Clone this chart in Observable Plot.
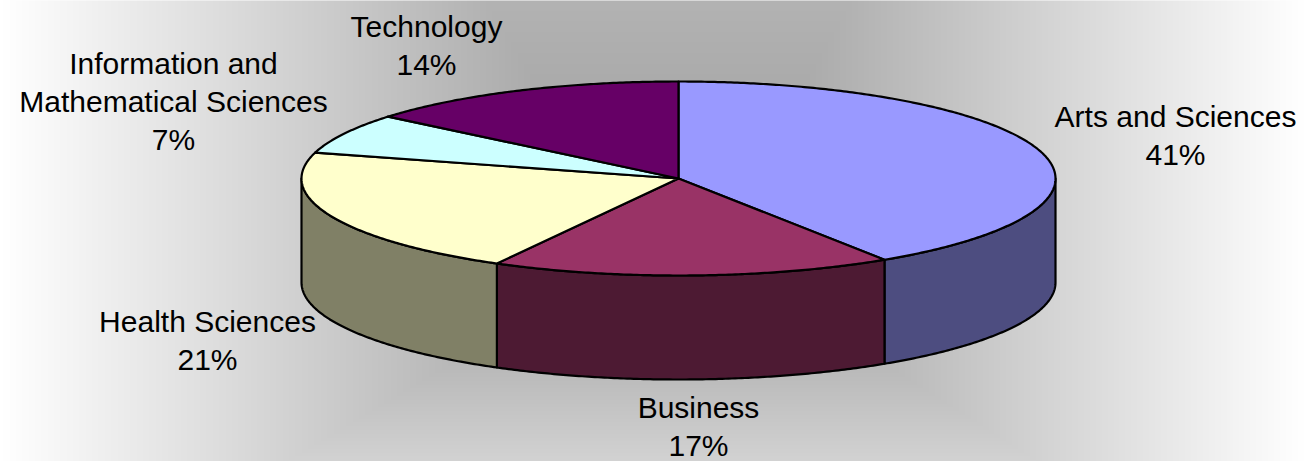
<!DOCTYPE html>
<html>
<head>
<meta charset="utf-8">
<style>html,body{margin:0;padding:0;background:#fff}svg{display:block}</style>
<script src="https://cdn.jsdelivr.net/npm/d3@7"></script>
<script src="https://cdn.jsdelivr.net/npm/@observablehq/plot@0.6"></script>
</head>
<body>
<div id="chart"></div>
<script>
// Data
const categories = ["Arts and Sciences", "Business", "Health Sciences", "Information and\nMathematical Sciences", "Technology"];
const shares = [40.8, 17.2, 21.3, 6.7, 14];
const topColors = ["#9999ff", "#993366", "#ffffcc", "#ccffff", "#660066"];
const sideColors = ["#4d4d80", "#4d1a33", "#808066", "#668080", "#330033"];

// Layout
const W = 1306, H = 461;
const pie = {cx: 678, cy: 178, rx: 377, ry: 97, depth: 104};
const labelAnchors = [[1175, 133], [698, 424], [207, 338], [173, 99], [426, 43]];

const total = d3.sum(shares);
const cum = d3.cumsum(shares);
const rad = d => d * Math.PI / 180;
const rim = (deg, dz = 0) => ({x: pie.cx + pie.rx * Math.sin(rad(deg)), y: pie.cy - pie.ry * Math.cos(rad(deg)) + dz});
const arc = (a, b, dz = 0) => {
  const n = Math.max(2, Math.ceil(Math.abs(b - a) * 2));
  return d3.range(n + 1).map(i => rim(a + (b - a) * i / n, dz));
};
const slices = shares.map((v, i) => ({
  name: categories[i], share: Math.round(v),
  a0: (cum[i] - v) / total * 360, a1: cum[i] / total * 360,
  top: topColors[i], side: sideColors[i]
}));

const marks = [];
// Background path gradient: dark plateau, lightening to the sides and the bottom
marks.push(Plot.raster({
  x1: 0, x2: W, y1: 0, y2: H, width: W, height: H,
  fill: (x, y) => Math.min(1, Math.max((540 - x) / 540, (x - 800) / 506, (y - 310) / 321, (90 - y) / 900, 0))
}));
// Side walls: the part of each slice's rim on the near half of the pie
for (const s of slices) {
  const a = Math.max(s.a0, 90), b = Math.min(s.a1, 270);
  if (b > a) {
    marks.push(Plot.line([...arc(a, b), ...arc(b, a, pie.depth)], {
      x: "x", y: "y", fill: s.side, stroke: "#000", strokeWidth: 2.2, curve: "linear-closed"
    }));
  }
}
// Top faces
for (const s of slices) {
  marks.push(Plot.line([{x: pie.cx, y: pie.cy}, ...arc(s.a0, s.a1)], {
    x: "x", y: "y", fill: s.top, stroke: "#000", strokeWidth: 2.2, curve: "linear-closed"
  }));
}
// Labels
const labels = slices.map((s, i) => ({text: `${s.name}\n${s.share}%`, x: labelAnchors[i][0], y: labelAnchors[i][1]}));
marks.push(Plot.text(labels, {
  x: "x", y: "y", text: "text", fill: "#000", fontSize: 30, lineHeight: 1.27,
  fontFamily: "Liberation Sans, Arial, sans-serif", textAnchor: "middle", lineAnchor: "middle"
}));

const chart = Plot.plot({
  width: W, height: H, margin: 0,
  style: {background: "transparent", fontFamily: "Liberation Sans, Arial, sans-serif"},
  x: {domain: [0, W], range: [0, W], axis: null},
  y: {domain: [0, H], range: [0, H], axis: null},
  color: {type: "linear", domain: [0, 1], range: ["#aaaaaa", "#ffffff"]},
  marks
});
document.getElementById("chart").append(chart);
</script>
</body>
</html>
